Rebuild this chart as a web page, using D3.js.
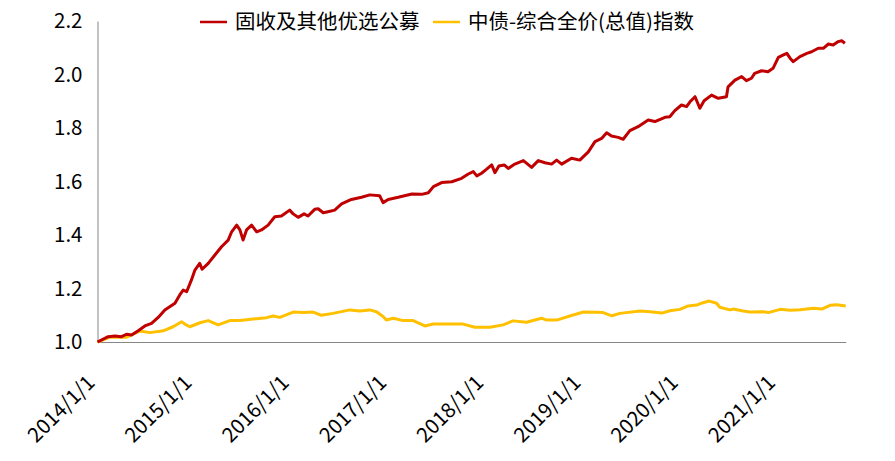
<!DOCTYPE html>
<html><head><meta charset="utf-8">
<script src="https://cdn.jsdelivr.net/npm/d3@7"></script>
<style>
html,body{margin:0;padding:0;background:#fff;}
text{font-family:"Noto Sans CJK SC","Microsoft YaHei",sans-serif;}
</style></head>
<body><svg id="chart" width="895" height="461"></svg>
<script>
const seriesNames = ["固收及其他优选公募", "中债-综合全价(总值)指数"];
const seriesColors = ["#C00000", "#FFC000"];
const yTicks = [1.0, 1.2, 1.4, 1.6, 1.8, 2.0, 2.2];
const xTickLabels = ["2014/1/1","2015/1/1","2016/1/1","2017/1/1","2018/1/1","2019/1/1","2020/1/1","2021/1/1"];

const fundDates = ["2014-01-01","2014-02-10","2014-03-07","2014-04-01","2014-04-20","2014-05-09","2014-06-03","2014-06-28","2014-07-23","2014-08-17","2014-09-11","2014-10-19","2014-11-06","2014-11-19","2014-12-02","2014-12-20",
"2015-01-02","2015-01-20","2015-01-29","2015-02-21","2015-03-18","2015-04-12","2015-05-07","2015-05-20","2015-06-08","2015-06-20","2015-07-02","2015-07-15","2015-08-03","2015-08-22","2015-09-09","2015-10-04","2015-10-29","2015-11-23","2015-12-24",
"2016-01-06","2016-01-25","2016-02-16","2016-03-02","2016-03-27","2016-04-09","2016-04-28","2016-05-16","2016-06-10","2016-07-06","2016-08-12","2016-09-19","2016-10-20","2016-11-26","2016-12-09","2016-12-28",
"2017-02-04","2017-03-27","2017-05-03","2017-05-28","2017-06-16","2017-07-17","2017-08-24","2017-09-30","2017-10-25","2017-11-13","2017-11-26","2017-12-14",
"2018-01-02","2018-01-21","2018-02-02","2018-02-17","2018-03-09","2018-03-24","2018-04-18","2018-05-20","2018-06-20","2018-07-15","2018-08-09","2018-09-03","2018-09-22","2018-10-11","2018-11-17","2018-12-18",
"2019-01-19","2019-02-13","2019-03-10","2019-03-29","2019-04-16","2019-05-11","2019-05-30","2019-06-24","2019-07-25","2019-09-01","2019-09-26","2019-11-03","2019-11-21","2019-12-10",
"2020-01-04","2020-01-23","2020-02-05","2020-02-24","2020-03-13","2020-03-29","2020-04-26","2020-05-21","2020-06-21","2020-06-27","2020-07-23","2020-08-17","2020-09-04","2020-09-23","2020-10-05","2020-10-31","2020-11-24","2020-12-13",
"2021-01-02","2021-01-21","2021-02-03","2021-02-15","2021-02-27","2021-03-24","2021-04-19","2021-05-07","2021-06-01","2021-06-20","2021-07-09","2021-07-27","2021-08-15","2021-08-28","2021-09-09"];
const fundValues = [1.000,1.020,1.022,1.020,1.029,1.026,1.042,1.060,1.070,1.092,1.120,1.145,1.176,1.194,1.188,1.232,
1.269,1.294,1.272,1.294,1.325,1.356,1.381,1.412,1.437,1.419,1.381,1.419,1.437,1.412,1.419,1.437,1.468,1.471,1.493,
1.479,1.466,1.479,1.471,1.496,1.498,1.483,1.487,1.493,1.516,1.533,1.541,1.550,1.547,1.521,1.533,
1.541,1.553,1.552,1.558,1.581,1.596,1.599,1.612,1.628,1.637,1.621,1.631,
1.646,1.662,1.633,1.658,1.662,1.649,1.665,1.678,1.653,1.678,1.670,1.665,1.680,1.665,1.687,1.680,
1.711,1.749,1.761,1.782,1.770,1.765,1.758,1.790,1.805,1.830,1.824,1.840,1.842,1.865,
1.886,1.880,1.898,1.917,1.874,1.902,1.923,1.911,1.917,1.954,1.979,1.992,1.977,1.986,2.004,2.014,2.010,2.023,
2.064,2.073,2.079,2.061,2.048,2.067,2.079,2.085,2.098,2.098,2.114,2.110,2.123,2.126,2.117];

const bondDates = ["2014-01-01","2014-02-17","2014-04-20","2014-06-09","2014-07-17","2014-09-05","2014-10-12","2014-11-13","2014-11-25","2014-12-14",
"2015-01-21","2015-02-21","2015-03-30","2015-05-13","2015-06-20","2015-08-09","2015-09-28","2015-10-23","2015-11-17",
"2016-01-06","2016-02-13","2016-03-21","2016-04-21","2016-06-04","2016-08-06","2016-09-12","2016-10-20","2016-11-14","2016-12-09","2016-12-21",
"2017-01-16","2017-02-22","2017-04-01","2017-05-15","2017-06-15","2017-08-16","2017-10-06","2017-11-19",
"2018-01-15","2018-03-05","2018-04-11","2018-06-01","2018-07-27","2018-08-15","2018-09-22","2018-11-23",
"2019-01-01","2019-02-19","2019-03-16","2019-04-17","2019-05-18","2019-08-01","2019-09-08","2019-10-22","2019-11-22","2019-12-29",
"2020-01-29","2020-03-01","2020-03-25","2020-04-17","2020-05-15","2020-05-27","2020-07-04","2020-07-16","2020-08-23","2020-09-17","2020-11-06","2020-11-25",
"2021-01-09","2021-02-15","2021-03-25","2021-05-14","2021-06-14","2021-07-15","2021-08-10","2021-09-12"];
const bondValues = [1.000,1.018,1.018,1.041,1.035,1.042,1.057,1.076,1.067,1.057,
1.072,1.080,1.064,1.080,1.080,1.086,1.091,1.097,1.092,
1.112,1.110,1.112,1.100,1.107,1.120,1.116,1.120,1.113,1.095,1.082,
1.089,1.080,1.080,1.060,1.067,1.067,1.067,1.055,
1.055,1.064,1.079,1.074,1.089,1.082,1.082,1.101,
1.112,1.111,1.110,1.098,1.107,1.116,1.113,1.108,1.117,1.122,
1.135,1.138,1.147,1.153,1.145,1.130,1.120,1.123,1.116,1.112,1.113,1.110,
1.122,1.119,1.121,1.126,1.123,1.137,1.139,1.135];

const parse = d3.timeParse("%Y-%m-%d");
const labelParse = d3.timeParse("%Y/%m/%d");
const svg = d3.select("#chart");
const plotLeft = 97.5, plotRight = 845.7, plotTop = 21, plotBottom = 342;

const x = d3.scaleTime().domain([parse("2014-01-01"), parse("2021-09-12")]).range([plotLeft, plotRight]);
const y = d3.scaleLinear().domain([1.0, 2.2]).range([plotBottom, plotTop]);

const axisColor = "#868686";
const yAxis = d3.axisLeft(y).tickValues(yTicks).tickFormat(d3.format(".1f")).tickSize(0).tickPadding(15);
const gy = svg.append("g").attr("transform", `translate(${plotLeft},0)`).call(yAxis);
gy.select(".domain").attr("stroke", axisColor);
gy.selectAll("text").attr("font-size", 20.5).attr("fill", "#000");

const xAxis = d3.axisBottom(x).tickValues(xTickLabels.map(labelParse)).tickFormat(d3.timeFormat("%Y/%-m/%-d")).tickSize(0);
const gx = svg.append("g").attr("transform", `translate(0,${plotBottom})`).call(xAxis);
gx.select(".domain").attr("stroke", axisColor);
gx.selectAll("text")
  .attr("font-size", 20.5).attr("fill", "#000")
  .attr("text-anchor", "end")
  .attr("dy", null).attr("y", 0)
  .attr("transform", "translate(-2,42) rotate(-45)");

const line = d3.line().x(d => x(d[0])).y(d => y(d[1]));
const fund = fundDates.map((d, i) => [parse(d), fundValues[i]]);
const bond = bondDates.map((d, i) => [parse(d), bondValues[i]]);

svg.append("path").datum(bond).attr("d", line).attr("fill", "none")
  .attr("stroke", seriesColors[1]).attr("stroke-width", 3).attr("stroke-linejoin", "round");
svg.append("path").datum(fund).attr("d", line).attr("fill", "none")
  .attr("stroke", seriesColors[0]).attr("stroke-width", 3).attr("stroke-linejoin", "round");

const legendItems = [{x: 200, tx: 235}, {x: 433, tx: 468}];
legendItems.forEach((it, i) => {
  svg.append("line").attr("x1", it.x).attr("x2", it.x + 27).attr("y1", 22).attr("y2", 22)
    .attr("stroke", seriesColors[i]).attr("stroke-width", 2.5);
  svg.append("text").attr("x", it.tx).attr("y", 22).attr("dy", "0.35em")
    .attr("font-size", 20.5).attr("fill", "#000").text(seriesNames[i]);
});
</script></body></html>
